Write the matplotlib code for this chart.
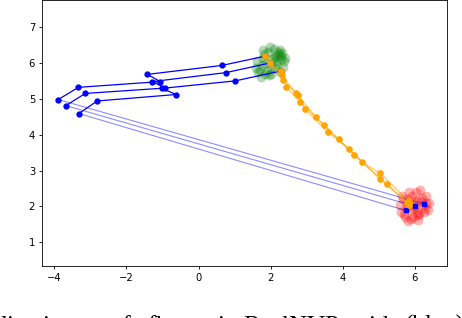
import matplotlib
matplotlib.use('Agg')
import matplotlib.pyplot as plt

# source cluster (green) and target cluster (red)
green_x = [1.62, 1.70, 1.78, 1.85, 1.92, 2.00, 2.08, 2.15, 2.22, 2.30, 2.38, 1.65, 1.75, 1.88, 1.95, 2.05, 2.12,
           2.20, 2.28, 2.35, 1.72, 1.82, 1.98, 2.10, 2.25, 2.40, 1.60, 1.90, 2.02, 2.18, 2.32, 1.80, 2.15, 2.26]
green_y = [6.05, 5.80, 6.15, 5.70, 6.30, 5.90, 6.40, 6.20, 6.25, 6.10, 6.05, 5.75, 5.95, 6.00, 5.65, 6.10, 5.85,
           6.30, 6.20, 5.90, 5.60, 6.25, 6.45, 6.15, 6.35, 6.15, 5.85, 5.78, 5.68, 5.95, 6.28, 6.35, 6.05, 5.75]
red_x = [5.60, 5.70, 5.80, 5.90, 6.00, 6.10, 6.20, 6.30, 6.35, 5.65, 5.75, 5.85, 5.95, 6.05, 6.15, 6.25, 5.62,
         5.78, 5.92, 6.08, 6.22, 6.32, 5.72, 5.88, 6.02, 6.18, 5.68, 5.98, 6.12, 6.28, 5.82, 5.95, 6.05, 6.40]
red_y = [2.05, 1.80, 2.20, 1.65, 2.00, 1.75, 2.25, 2.10, 1.90, 2.30, 1.95, 2.40, 1.70, 2.15, 2.45, 1.85, 1.85,
         2.10, 2.30, 1.62, 2.05, 2.30, 1.70, 1.90, 2.40, 2.15, 2.20, 1.95, 1.80, 1.95, 1.60, 2.15, 1.85, 2.10]

# blue flow trajectories (red -> green), first step is the big jump to the left
blue_paths_x = [
    [6.25, -3.89, -3.33, -1.06, -1.42, 0.65, 1.85],
    [5.99, -3.68, -3.14, -0.93, -1.28, 0.76, 1.99],
    [5.74, -3.32, -2.81, -0.62, -1.02, 1.02, 2.30],
]
blue_paths_y = [
    [2.07, 4.98, 5.32, 5.48, 5.68, 5.93, 6.19],
    [2.01, 4.81, 5.15, 5.30, 5.48, 5.73, 6.00],
    [1.89, 4.59, 4.94, 5.12, 5.29, 5.50, 5.78],
]

# orange trajectories (green -> red)
orange_paths_x = [
    [1.85, 2.31, 2.71, 3.25, 3.89, 4.54, 5.02, 5.83],
    [1.99, 2.34, 2.75, 2.94, 3.59, 4.17, 5.02, 5.79],
    [2.30, 2.43, 2.82, 3.47, 4.31, 5.23, 5.85],
]
orange_paths_y = [
    [6.19, 5.65, 5.15, 4.50, 3.87, 3.23, 2.94, 2.15],
    [6.00, 5.52, 5.10, 4.72, 4.07, 3.61, 2.77, 2.10],
    [5.78, 5.33, 4.90, 4.27, 3.44, 2.63, 2.05],
]

# caption under the figure, only its top edge shows
caption_words = ['lization', 'of', 'flows', 'in', 'RealNVP', 'with', '(blue)']
caption_x = [0, 110, 147, 217, 243, 352, 405]

fig = plt.figure(figsize=(4.62, 3.18), dpi=100)
ax = fig.add_axes([0.091, 0.1645, 0.8765, 0.834])

ax.scatter(green_x, green_y, s=50, color='green', alpha=0.3, linewidths=0)
ax.scatter(red_x, red_y, s=50, color='red', alpha=0.3, linewidths=0)

for xs, ys in zip(blue_paths_x, blue_paths_y):
    ax.plot(xs[:2], ys[:2], color='blue', alpha=0.45, lw=0.8)
    ax.plot(xs[1:], ys[1:], color='blue', lw=0.9, marker='o', ms=3.5)
    ax.plot(xs[0], ys[0], color='blue', marker='s', ms=3.3)

for xs, ys in zip(orange_paths_x, orange_paths_y):
    ax.plot(xs, ys, color='orange', alpha=0.6, lw=0.9)
    ax.plot(xs, ys, color='orange', lw=0, marker='o', ms=3.8)

ax.set_xlim(-4.34, 6.89)
ax.set_ylim(0.35, 7.74)
ax.set_xticks([-4, -2, 0, 2, 4, 6])
ax.set_yticks([1, 2, 3, 4, 5, 6, 7])
ax.tick_params(labelsize=7.2, length=2.5, width=0.6, pad=2.5)
for sp in ax.spines.values():
    sp.set_linewidth(0.6)

for w, x in zip(caption_words, caption_x):
    fig.text(x / 462, 1 - 333 / 318, w, family='Liberation Serif', fontsize=18, va='baseline', ha='left')

fig.savefig('out.png', dpi=100)
